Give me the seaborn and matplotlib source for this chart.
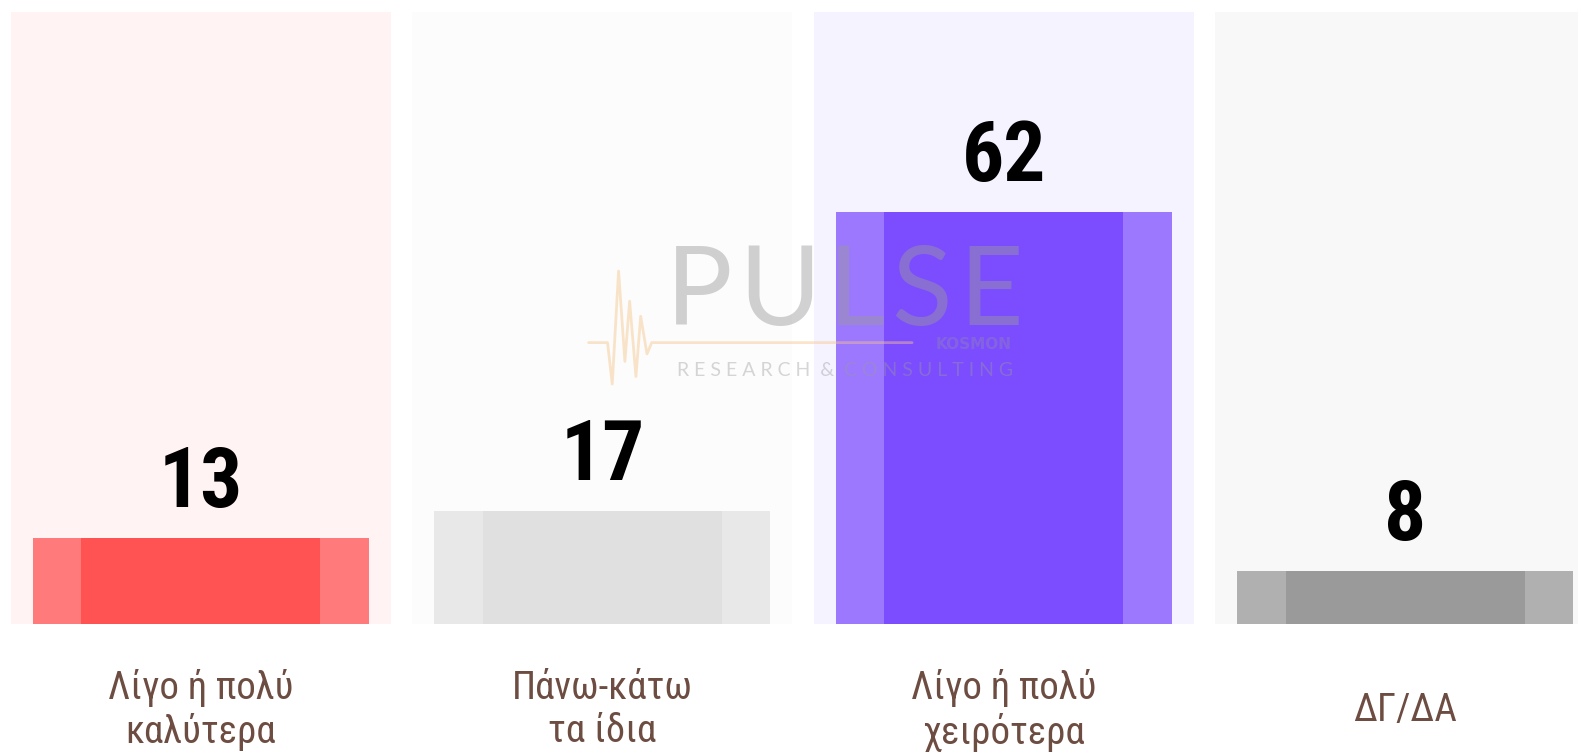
import matplotlib
matplotlib.use('Agg')
import matplotlib.pyplot as plt
import seaborn as sns
from matplotlib import font_manager

# Dados do gráfico
categorias = ['Λίγο ή πολύ\nκαλύτερα', 'Πάνω-κάτω\nτα ίδια', 'Λίγο ή πολύ\nχειρότερα', 'ΔΓ/ΔΑ']
valores = [13, 17, 62, 8]
cores_fundo = ['#fff3f3', '#fcfcfc', '#f5f3ff', '#f8f8f8']
cores_borda = ['#ff7b7b', '#e8e8e8', '#9c78ff', '#b0b0b0']
cores_barra = ['#ff5252', '#e0e0e0', '#7c4dff', '#9a9a9a']
topo_painel = 92

nomes = {f.name for f in font_manager.fontManager.ttflist}
fonte_cond = 'Roboto Condensed' if 'Roboto Condensed' in nomes else 'Roboto'

sns.set_style('white')
plt.rcParams['font.family'] = [fonte_cond, 'DejaVu Sans']

fig = plt.figure(figsize=(15.78, 7.53), dpi=100)
ax = fig.add_axes([0, 129 / 753, 1, 624 / 753])

sns.barplot(x=categorias, y=[topo_painel] * len(categorias), hue=categorias,
            palette=dict(zip(categorias, cores_fundo)), width=0.947, saturation=1,
            legend=False, ax=ax, linewidth=0)
sns.barplot(x=categorias, y=valores, hue=categorias,
            palette=dict(zip(categorias, cores_borda)), width=0.837, saturation=1,
            legend=False, ax=ax, linewidth=0)
sns.barplot(x=categorias, y=valores, hue=categorias,
            palette=dict(zip(categorias, cores_barra)), width=0.596, saturation=1,
            legend=False, ax=ax, linewidth=0)

# Valores acima das barras
for i, v in enumerate(valores):
    ax.text(i, v + 4.6, str(v), ha='center', va='baseline', fontsize=60,
            fontweight='bold', color='black')

# Marca d'água
fig.text(0.5355, 0.568, 'P\u200aU\u200aL\u200aS\u200aE', ha='center', va='baseline',
         fontsize=80, family='Lato', color='#999999', alpha=0.45)
fig.text(0.5355, 0.508, 'R E S E A R C H  &  C O N S U L T I N G', ha='center',
         va='center', fontsize=14, family='Lato', color='#999999', alpha=0.4)
fig.text(0.641, 0.536, 'KOSMON', ha='right', va='baseline', fontsize=11,
         family='DejaVu Sans', fontweight='bold', color='#999999', alpha=0.3)
linha_x = [0.373, 0.385, 0.388, 0.392, 0.396, 0.399, 0.403, 0.406, 0.410, 0.413, 0.418, 0.578]
linha_y = [0.545, 0.545, 0.49, 0.64, 0.52, 0.60, 0.50, 0.58, 0.53, 0.545, 0.545, 0.545]
fig.add_artist(plt.Line2D(linha_x, linha_y, color='#f5c58a', alpha=0.45, lw=2))

ax.set_xlim(-0.5, 3.43)
ax.set_ylim(0, 624 / 6.65)
ax.set_xlabel('')
ax.set_ylabel('')
ax.set_yticks([])
ax.tick_params(axis='x', length=0, pad=62, labelsize=28, labelcolor='#6d4c41')
for rotulo in ax.get_xticklabels():
    rotulo.set_linespacing(1.2)
    rotulo.set_verticalalignment('center')
sns.despine(ax=ax, left=True, bottom=True)

plt.savefig('out.png', dpi=100, facecolor='white')
